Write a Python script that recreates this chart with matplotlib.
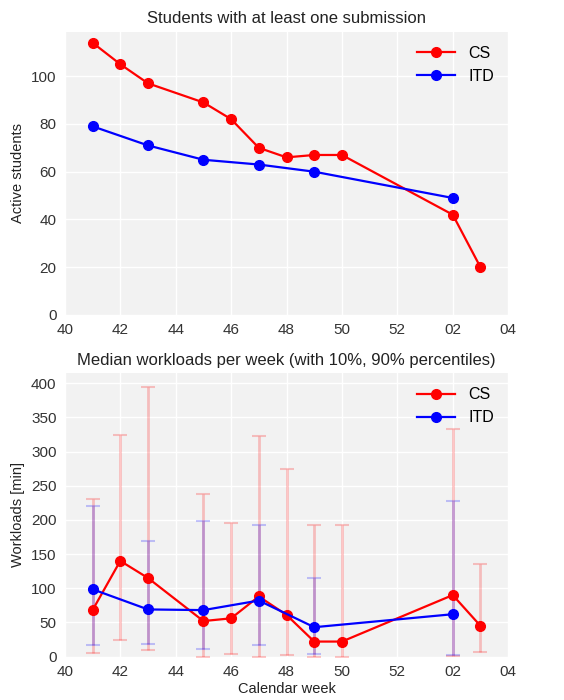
import matplotlib.pyplot as plt
import numpy as np

plt.rcParams['font.family'] = ['Liberation Sans', 'DejaVu Sans']

# calendar weeks (weeks after 52 continue as 53, 54, ...)
cs_weeks = [41, 42, 43, 45, 46, 47, 48, 49, 50, 54, 55]
itd_weeks = [41, 43, 45, 47, 49, 54]

cs_active = [114, 105, 97, 89, 82, 70, 66, 67, 67, 42, 20]
itd_active = [79, 71, 65, 63, 60, 49]

cs_median = [68, 140, 115, 52, 56, 88, 61, 22, 22, 90, 45]
cs_p10 = [5, 25, 9, 0, 4, 0, 3, 0, 0, 1.5, 6]
cs_p90 = [231, 324, 395, 238, 196, 322, 274, 193, 193, 333, 135]

itd_median = [98.5, 69, 68, 82, 43, 62]
itd_p10 = [16.6, 18.5, 11, 17, 4, 3]
itd_p90 = [220, 169, 198, 192, 115, 227]

tick_weeks = [40, 42, 44, 46, 48, 50, 52, 54, 56]


def week_label(w):
    return "%02d" % (w if w <= 52 else w - 52)


def style(ax):
    ax.set_facecolor('#f2f2f2')
    ax.grid(True, color='white', lw=1)
    ax.set_axisbelow(True)
    for s in ax.spines.values():
        s.set_visible(False)
    ax.tick_params(length=0, labelsize=11, colors='#333333', pad=6)
    ax.set_xlim(40, 56)
    ax.set_xticks(tick_weeks)
    ax.set_xticklabels([week_label(w) for w in tick_weeks])


fig = plt.figure(figsize=(5.64, 7), dpi=100)
ax1 = fig.add_axes([0.115, 0.55, 0.786, 0.405])
ax2 = fig.add_axes([0.115, 0.062, 0.786, 0.405])

# top: active students
style(ax1)
ax1.plot(cs_weeks, cs_active, 'o-', color='red', lw=1.6, ms=7, label='CS')
ax1.plot(itd_weeks, itd_active, 'o-', color='blue', lw=1.6, ms=7, label='ITD')
ax1.set_ylim(bottom=0)
ax1.set_title('Students with at least one submission', fontsize=12, color='#222222')
ax1.set_ylabel('Active students', fontsize=10.5, color='#222222')
ax1.legend(loc='upper right', frameon=False, fontsize=11.5, handlelength=2.4)

# bottom: workloads with percentiles
style(ax2)
cs_med = np.array(cs_median)
itd_med = np.array(itd_median)
ax2.errorbar(cs_weeks, cs_median,
             yerr=[cs_med - np.array(cs_p10), np.array(cs_p90) - cs_med],
             fmt='none', ecolor='red', alpha=0.22, elinewidth=2, capsize=5, capthick=1.5)
ax2.errorbar(itd_weeks, itd_median,
             yerr=[itd_med - np.array(itd_p10), np.array(itd_p90) - itd_med],
             fmt='none', ecolor='blue', alpha=0.22, elinewidth=2, capsize=5, capthick=1.5)
ax2.plot(cs_weeks, cs_median, 'o-', color='red', lw=1.6, ms=7, label='CS')
ax2.plot(itd_weeks, itd_median, 'o-', color='blue', lw=1.6, ms=7, label='ITD')
ax2.set_ylim(bottom=0)
ax2.set_title('Median workloads per week (with 10%, 90% percentiles)', fontsize=12, color='#222222')
ax2.set_ylabel('Workloads [min]', fontsize=10.5, color='#222222')
ax2.set_xlabel('Calendar week', fontsize=10.5, color='#222222', labelpad=2)
ax2.legend(loc='upper right', frameon=False, fontsize=11.5, handlelength=2.4)

fig.savefig('out.png', dpi=100)
